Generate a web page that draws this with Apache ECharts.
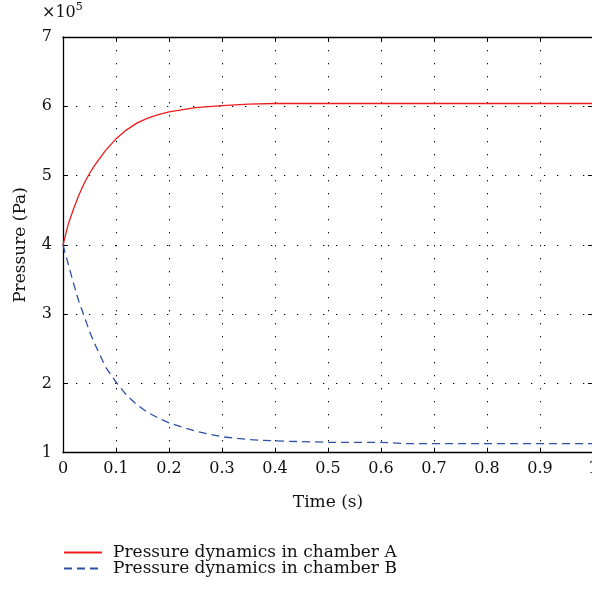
<!DOCTYPE html>
<html><head><meta charset="utf-8">
<script src="https://cdn.jsdelivr.net/npm/echarts@6/dist/echarts.min.js"></script>
<style>html,body{margin:0;padding:0;background:#fff}#c{width:592px;height:592px}</style>
</head><body><div id="c"></div>
<script>
const timeA = [0,0.01,0.02,0.03,0.04,0.05,0.06,0.08,0.1,0.12,0.14,0.16,0.18,0.2,0.25,0.3,0.35,0.4,0.5,0.6,0.7,0.8,0.9,1.0];
const pressureA = [4.0,4.30,4.52,4.72,4.89,5.03,5.15,5.36,5.53,5.66,5.76,5.83,5.88,5.92,5.98,6.01,6.03,6.04,6.04,6.04,6.04,6.04,6.04,6.04];
const timeB = [0,0.01,0.02,0.03,0.04,0.05,0.06,0.08,0.1,0.12,0.14,0.16,0.18,0.2,0.25,0.3,0.35,0.4,0.45,0.5,0.55,0.6,0.65,0.7,0.8,0.9,1.0];
const pressureB = [4.0,3.72,3.44,3.18,2.97,2.75,2.57,2.24,2.02,1.83,1.69,1.58,1.50,1.43,1.31,1.23,1.19,1.17,1.16,1.15,1.15,1.15,1.13,1.13,1.13,1.13,1.13];
const seriesNames = ['Pressure dynamics in chamber A','Pressure dynamics in chamber B'];
const xLabel = 'Time (s)', yLabel = 'Pressure (Pa)';

const font = 'DejaVu Serif';
const fs = 16;
const chart = echarts.init(document.getElementById('c'));
const dotted = {color:'#000', width:1, type:[1.3,11.7]};
const axisCommon = {
  axisLine:{show:true, onZero:false, lineStyle:{color:'#000', width:1.3}},
  axisTick:{show:true, inside:true, length:5, lineStyle:{color:'#000', width:1}},
};
chart.setOption({
  animation:false,
  grid:{left:63, top:37, width:530, height:415.7, containLabel:false, outerBoundsMode:'none'},
  xAxis:[
    Object.assign({type:'value', min:0, max:1, interval:0.1, position:'bottom',
      axisLabel:{color:'#111', fontFamily:font, fontSize:fs, margin:8, hideOverlap:false,
        formatter:v=> (Math.abs(v)<1e-9?'0':(Math.abs(v-1)<1e-9?'1':v.toFixed(1)))},
      splitLine:{show:true, lineStyle:dotted}}, axisCommon),
    Object.assign({type:'value', min:0, max:1, interval:0.1, position:'top',
      axisLabel:{show:false}, splitLine:{show:false}}, axisCommon)
  ],
  yAxis:[
    Object.assign({type:'value', min:1, max:7, interval:1, position:'left',
      axisLabel:{color:'#111', fontFamily:font, fontSize:fs, margin:11},
      splitLine:{show:true, lineStyle:dotted}}, axisCommon),
    Object.assign({type:'value', min:1, max:7, interval:1, position:'right',
      axisLabel:{show:false}, splitLine:{show:false}}, axisCommon)
  ],
  legend:{orient:'vertical', left:58, top:539, itemWidth:38, itemHeight:10, itemGap:-1,
    itemStyle:{opacity:0},
    textStyle:{color:'#111', fontFamily:font, fontSize:17, lineHeight:17, padding:[0,0,0,6]},
    data:seriesNames},
  series:[
    {name:seriesNames[0], type:'line', showSymbol:false, symbol:'none',
      data:timeA.map((t,i)=>[t,pressureA[i]]),
      lineStyle:{color:'#ee1c1c', width:1.3}, itemStyle:{color:'#ee1c1c'}},
    {name:seriesNames[1], type:'line', showSymbol:false, symbol:'none',
      data:timeB.map((t,i)=>[t,pressureB[i]]),
      lineStyle:{color:'#2d4fa6', width:1.3, type:[8,5]}, itemStyle:{color:'#2d4fa6'}}
  ],
  graphic:[
    {type:'text', x:328, y:503, style:{text:xLabel, fill:'#111', font:'17px "DejaVu Serif"', align:'center', verticalAlign:'middle'}},
    {type:'text', x:21, y:245, rotation:Math.PI/2, style:{text:yLabel, fill:'#111', font:'17px "DejaVu Serif"', align:'center', verticalAlign:'middle'}},
    {type:'text', x:42, y:2, style:{text:'{a|×10}{b|5}', rich:{a:{font:fs+'px "DejaVu Serif"', fill:'#111', verticalAlign:'bottom'}, b:{font:'11px "DejaVu Serif"', fill:'#111', verticalAlign:'top', padding:[0,0,8,0]}}}}
  ]
});
</script></body></html>
